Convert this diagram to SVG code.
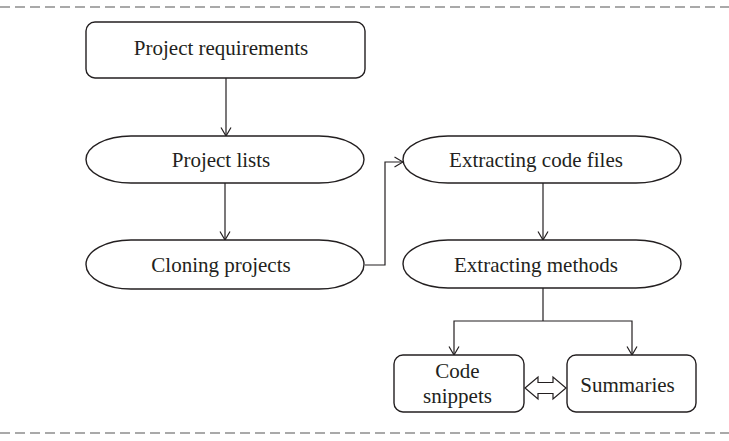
<svg xmlns="http://www.w3.org/2000/svg" width="729" height="441" viewBox="0 0 729 441">
  <style>
    .shape { fill: #fff; stroke: #231f20; stroke-width: 1.4; }
    .label { font-family: "Liberation Serif", "Times New Roman", serif; font-size: 21px; fill: #231f20; text-anchor: middle; }
    .conn { fill: none; stroke: #231f20; stroke-width: 1.2; }
    .arr { marker-end: url(#arrow); }
    .frame { stroke: #555; stroke-width: 1.2; stroke-dasharray: 10 5; }
  </style>
  <defs>
    <marker id="arrow" viewBox="0 0 10 12" refX="9.5" refY="6" markerWidth="10" markerHeight="12" markerUnits="userSpaceOnUse" orient="auto">
      <path d="M1,1 L9.5,6 L1,11" fill="none" stroke="#231f20" stroke-width="1.2"/>
    </marker>
  </defs>

  <!-- frame lines -->
  <line class="frame" x1="0" y1="7" x2="729" y2="7"/>
  <line class="frame" x1="0" y1="433" x2="729" y2="433"/>

  <g id="connectors">
    <line class="conn arr" x1="226" y1="78" x2="226" y2="136"/>
    <line class="conn arr" x1="225" y1="183" x2="225" y2="240"/>
    <polyline class="conn arr" points="365,265 385,265 385,162 403,162"/>
    <line class="conn arr" x1="543" y1="183" x2="543" y2="240"/>
    <polyline class="conn" points="543,288 543,321"/>
    <polyline class="conn arr" points="543,321 454,321 454,355"/>
    <polyline class="conn arr" points="543,321 632,321 632,355"/>
    <!-- hollow two-way arrow -->
    <path d="M525,388 L538,377 L538,382.5 L553,382.5 L553,377 L566,388 L553,399 L553,393.5 L538,393.5 L538,399 Z" fill="#fff" stroke="#231f20" stroke-width="1.2"/>
  </g>

  <g id="project-requirements">
    <rect class="shape" x="86" y="22" width="279" height="56" rx="9"/>
    <text class="label" x="221" y="55">Project requirements</text>
  </g>
  <g id="project-lists">
    <rect class="shape" x="86" y="136" width="278" height="47" rx="45" ry="23.5"/>
    <text class="label" x="221" y="167">Project lists</text>
  </g>
  <g id="cloning-projects">
    <rect class="shape" x="86" y="240" width="278" height="49" rx="45" ry="24.5"/>
    <text class="label" x="221" y="272">Cloning projects</text>
  </g>
  <g id="extracting-code-files">
    <rect class="shape" x="403" y="136" width="278" height="47" rx="45" ry="23.5"/>
    <text class="label" x="536" y="167">Extracting code files</text>
  </g>
  <g id="extracting-methods">
    <rect class="shape" x="403" y="240" width="278" height="48" rx="45" ry="24"/>
    <text class="label" x="536" y="272">Extracting methods</text>
  </g>
  <g id="code-snippets">
    <rect class="shape" x="394" y="355" width="130" height="57" rx="9"/>
    <text class="label" x="457.5" y="378">Code</text>
    <text class="label" x="457.5" y="403">snippets</text>
  </g>
  <g id="summaries">
    <rect class="shape" x="567" y="355" width="129" height="57" rx="9"/>
    <text class="label" x="627.5" y="392">Summaries</text>
  </g>
</svg>
